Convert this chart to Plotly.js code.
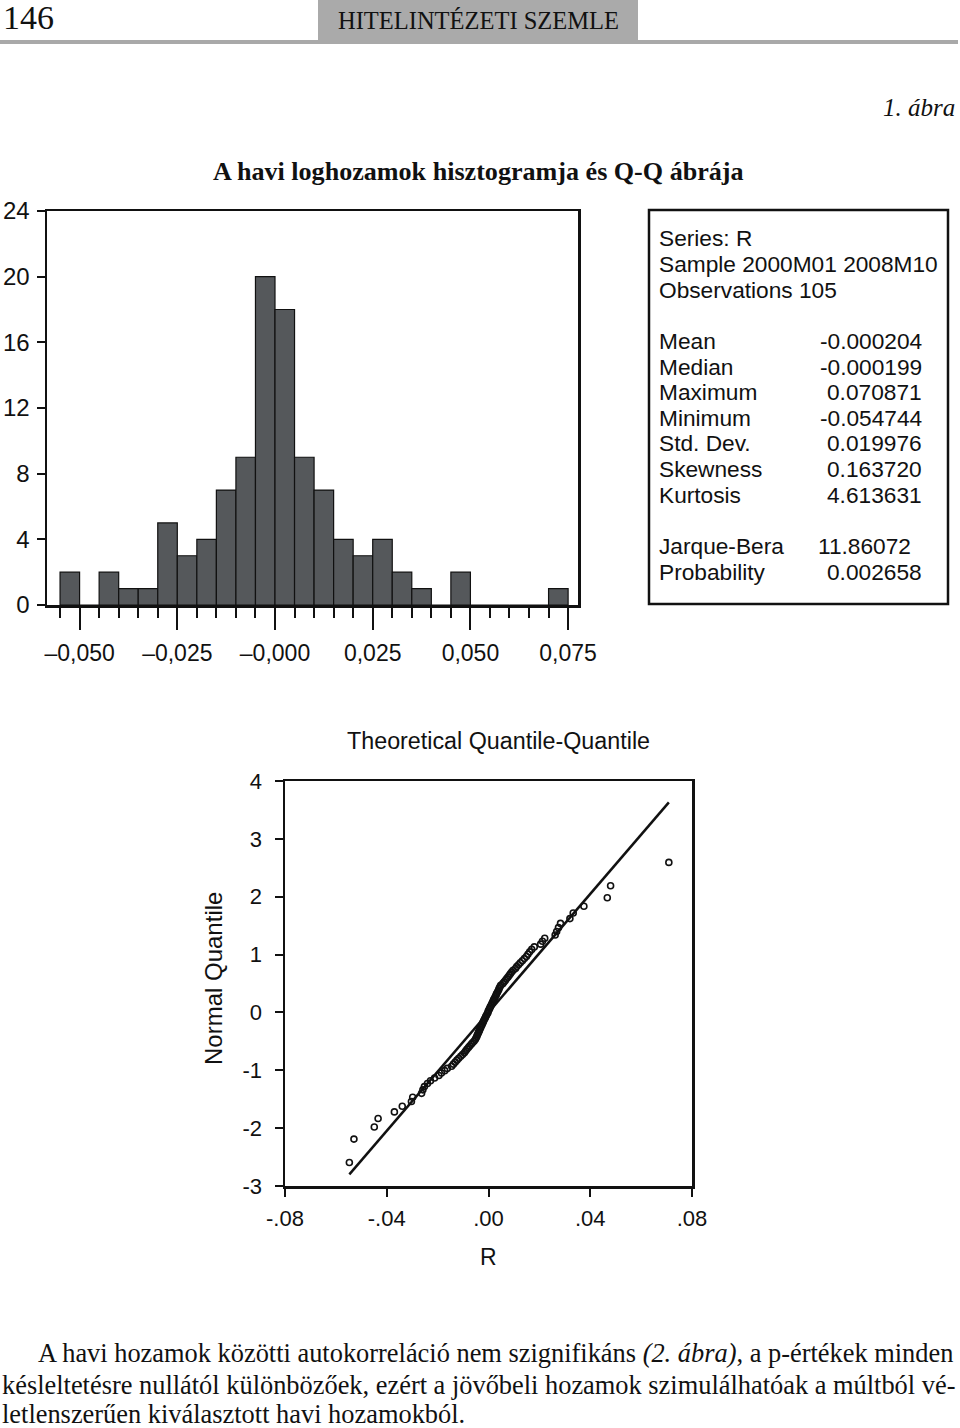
<!DOCTYPE html>
<html>
<head>
<meta charset="utf-8">
<script src="https://cdn.plot.ly/plotly-3.0.1.min.js"></script>
<style>
html,body{margin:0;padding:0;background:#fff;}
#chart{width:960px;height:1428px;}
</style>
</head>
<body>
<div id="chart"></div>
<script>
// ---------- Histogram data (bin width 0.005) ----------
const histBinCenters = [-0.0525,-0.0475,-0.0425,-0.0375,-0.0325,-0.0275,-0.0225,-0.0175,-0.0125,-0.0075,-0.0025,
  0.0025,0.0075,0.0125,0.0175,0.0225,0.0275,0.0325,0.0375,0.0425,0.0475,0.0525,0.0575,0.0625,0.0675,0.0725];
const histCounts = [2,0,2,1,1,5,3,4,7,9,20,18,9,7,4,3,4,2,1,0,2,0,0,0,0,1];
const histTickVals = [-0.05,-0.025,0,0.025,0.05,0.075];
const histTickText = ['\u20130,050','\u20130,025','\u20130,000','0,025','0,050','0,075'];
const histYTicks = [0,4,8,12,16,20,24];

// ---------- Summary statistics ----------
const statsHeader = ['Series: R','Sample 2000M01 2008M10','Observations 105'];
const statsLabels = ['Mean','Median','Maximum','Minimum','Std. Dev.','Skewness','Kurtosis'];
const statsValues = ['-0.000204','-0.000199','0.070871','-0.054744','0.019976','0.163720','4.613631'];
const testLabels = ['Jarque-Bera','Probability'];
const testValues = ['11.86072','0.002658'];

// ---------- Q-Q plot data (sorted R vs normal quantile) ----------
const qqR = [
 -0.0547,-0.0529,-0.0449,-0.0434,-0.0370,-0.0339,-0.0303,-0.0298,-0.0263,-0.0258,-0.0252,
 -0.0240,-0.0228,-0.0212,
 -0.0195,-0.0185,-0.0172,-0.0162,
 -0.0145,-0.0138,-0.0131,-0.0124,-0.0117,-0.0109,-0.0102,
 -0.0095,-0.0090,-0.0085,-0.0079,-0.0074,-0.0068,-0.0063,-0.0057,-0.0052,
 -0.0049,-0.0046,-0.0044,-0.0041,-0.0039,-0.0036,-0.0034,-0.0031,-0.0029,-0.0026,
 -0.0024,-0.0021,-0.0019,-0.0016,-0.0013,-0.0011,-0.0008,-0.0005,-0.0002,-0.0001,
 0.0002,0.0005,0.0007,0.0010,0.0013,0.0015,0.0018,0.0020,0.0023,0.0026,0.0029,0.0031,0.0034,0.0037,0.0040,0.0042,0.0045,0.0048,
 0.0056,0.0061,0.0066,0.0071,0.0076,0.0081,0.0086,0.0091,0.0097,
 0.0106,0.0111,0.0118,0.0125,0.0133,0.0141,0.0149,
 0.0155,0.0162,0.0170,0.0180,
 0.0205,0.0212,0.0221,
 0.0262,0.0268,0.0275,0.0283,
 0.0320,0.0333,
 0.0375,
 0.0467,0.0480,
 0.0709];
const qqZ = [
 -2.593,-2.189,-1.981,-1.834,-1.719,-1.622,-1.539,-1.465,-1.399,-1.338,-1.282,-1.229,-1.180,-1.133,-1.089,-1.047,-1.006,-0.967,
 -0.930,-0.894,-0.859,-0.825,-0.792,-0.759,-0.728,-0.697,-0.667,-0.637,-0.608,-0.580,-0.552,-0.524,-0.497,-0.470,-0.444,-0.418,
 -0.392,-0.366,-0.341,-0.316,-0.291,-0.266,-0.241,-0.217,-0.192,-0.168,-0.144,-0.120,-0.096,-0.072,-0.048,-0.024,
 0.000,
 0.024,0.048,0.072,0.096,0.120,0.144,0.168,0.192,0.217,0.241,0.266,0.291,0.316,0.341,0.366,0.392,0.418,0.444,
 0.470,0.497,0.524,0.552,0.580,0.608,0.637,0.667,0.697,0.728,0.759,0.792,0.825,0.859,0.894,0.930,
 0.967,1.006,1.047,1.089,1.133,1.180,1.229,1.282,1.338,1.399,1.465,1.539,1.622,1.719,1.834,1.981,2.189,2.593];
const refLineX = [-0.0547, 0.0709];
const refLineY = [-2.80, 3.63];
const qqXTickVals = [-0.08,-0.04,0,0.04,0.08];
const qqXTickText = ['-.08','-.04','.00','.04','.08'];
const qqYTicks = [-3,-2,-1,0,1,2,3,4];
const qqYTickText = ['-3','-2','-1','0','1','2','3','4'];

// ---------- Texts ----------
const pageNumber = '146';
const journalName = 'HITELINTÉZETI SZEMLE';
const figureLabel = '1. ábra';
const chartTitle = 'A havi loghozamok hisztogramja és Q-Q ábrája';
const qqTitle = 'Theoretical Quantile-Quantile';
const qqXTitle = 'R';
const qqYTitle = 'Normal Quantile';
const bodyLines = [
 'A havi hozamok közötti autokorreláció nem szignifikáns <i>(2. ábra)</i>, a p-értékek minden',
 'késleltetésre nullától különbözőek, ezért a jövőbeli hozamok szimulálhatóak a múltból vé-',
 'letlenszerűen kiválasztott havi hozamokból.'
];

// ---------- Helpers (pixel -> paper) ----------
const W = 960, H = 1428;
const px = v => v / W;
const py = v => 1 - v / H;
const SANS = 'Liberation Sans, Arial, Helvetica, sans-serif';
const SERIF = 'Liberation Serif, Times New Roman, serif';
const INK = '#111';

const annotations = [];
function txt(text, x, y, size, opts) {
  opts = opts || {};
  annotations.push(Object.assign({
    text: text, xref: 'paper', yref: 'paper', x: px(x), y: py(y),
    xanchor: 'left', yanchor: 'middle', showarrow: false,
    font: {family: SANS, size: size, color: INK}
  }, opts));
}
const serif = size => ({font: {family: SERIF, size: size, color: INK}});

// header
txt(pageNumber, 1, 18, 34, serif(34));
txt(journalName, 478, 21, 24.5, Object.assign({xanchor: 'center'}, serif(24.5)));
txt('<i>' + figureLabel + '</i>', 957, 108, 25, Object.assign({xanchor: 'right'}, serif(25)));
txt('<b>' + chartTitle + '</b>', 478, 171, 26.1, Object.assign({xanchor: 'center'}, serif(26.1)));

// stats box text
const SF = 22.7;
const headerY = [238, 264, 290];
statsHeader.forEach((s, i) => txt(s, 657, headerY[i], SF));
const statY = [341, 367, 392, 418, 443, 469, 495];
statsLabels.forEach((s, i) => {
  txt(s, 657, statY[i], SF);
  txt(statsValues[i], 924, statY[i], SF, {xanchor: 'right'});
});
const testY = [546, 572];
const testRight = [913, 924];
testLabels.forEach((s, i) => {
  txt(s, 657, testY[i], SF);
  txt(testValues[i], testRight[i], testY[i], SF, {xanchor: 'right'});
});

// QQ titles
txt(qqTitle, 498, 741, 23.3, {xanchor: 'center'});
txt(qqXTitle, 488, 1257, 23, {xanchor: 'center'});
txt(qqYTitle, 213, 979, 24, {xanchor: 'center', textangle: -90});

// body text
const BF = 26.4;
txt(bodyLines[0], 36, 1353, BF, serif(BF));
txt(bodyLines[1], 0, 1385, BF, serif(BF));
txt(bodyLines[2], 0, 1414, BF, serif(BF));

const shapes = [
  {type: 'rect', xref: 'paper', yref: 'paper', x0: px(318), x1: px(638), y0: py(0), y1: py(41),
   fillcolor: '#aaaaaa', line: {width: 0}, layer: 'below'},
  {type: 'line', xref: 'paper', yref: 'paper', x0: px(0), x1: px(958), y0: py(42), y1: py(42),
   line: {color: '#a9a9a9', width: 4}},
  {type: 'rect', xref: 'paper', yref: 'paper', x0: px(649), x1: px(948), y0: py(604), y1: py(210),
   line: {color: INK, width: 2.5}, fillcolor: 'rgba(0,0,0,0)'}
];

const traces = [
  {type: 'bar', x: histBinCenters, y: histCounts, width: 0.005, xaxis: 'x', yaxis: 'y',
   marker: {color: '#55585b', line: {color: INK, width: 1.2}}, hoverinfo: 'skip'},
  {type: 'scatter', mode: 'lines', x: refLineX, y: refLineY, xaxis: 'x2', yaxis: 'y2',
   line: {color: INK, width: 2.5}, hoverinfo: 'skip'},
  {type: 'scatter', mode: 'markers', x: qqR, y: qqZ, xaxis: 'x2', yaxis: 'y2',
   marker: {symbol: 'circle-open', size: 6, color: INK, line: {width: 1.6, color: INK}}, hoverinfo: 'skip'}
];

const axisCommon = {
  showline: true, linecolor: INK, linewidth: 2.5, mirror: true,
  showgrid: false, zeroline: false, ticks: 'outside', tickwidth: 2, tickcolor: INK,
  tickfont: {family: SANS, size: 22, color: INK}, fixedrange: true
};

const layout = {
  width: W, height: H, margin: {l: 0, r: 0, t: 0, b: 0},
  paper_bgcolor: '#fff', plot_bgcolor: 'rgba(0,0,0,0)', showlegend: false,
  font: {family: SANS, color: INK},
  bargap: 0,
  xaxis: Object.assign({}, axisCommon, {
    domain: [px(47), px(578)], anchor: 'y', range: [-0.05834, 0.07753],
    tickmode: 'array', tickvals: histTickVals, ticktext: histTickText,
    tickfont: {family: SANS, size: 23, color: INK},
    ticklen: 22, ticklabelstandoff: 4,
    minor: {tick0: 0, dtick: 0.005, ticks: 'outside', ticklen: 10, tickwidth: 2, tickcolor: INK, showgrid: false}
  }),
  yaxis: Object.assign({}, axisCommon, {
    domain: [py(605), py(211)], anchor: 'x', range: [0, 24],
    tickmode: 'array', tickvals: histYTicks,
    tickfont: {family: SANS, size: 24, color: INK},
    ticklen: 8, ticklabelstandoff: 2
  }),
  xaxis2: Object.assign({}, axisCommon, {
    domain: [px(285), px(692)], anchor: 'y2', range: [-0.08, 0.08],
    tickmode: 'array', tickvals: qqXTickVals, ticktext: qqXTickText,
    ticklen: 8, ticklabelstandoff: 3
  }),
  yaxis2: Object.assign({}, axisCommon, {
    domain: [py(1186), py(781)], anchor: 'x2', range: [-3, 4],
    tickmode: 'array', tickvals: qqYTicks, ticktext: qqYTickText, ticklen: 8, ticklabelstandoff: 8
  }),
  shapes: shapes,
  annotations: annotations
};

Plotly.newPlot('chart', traces, layout, {staticPlot: true, displayModeBar: false});
</script>
</body>
</html>
